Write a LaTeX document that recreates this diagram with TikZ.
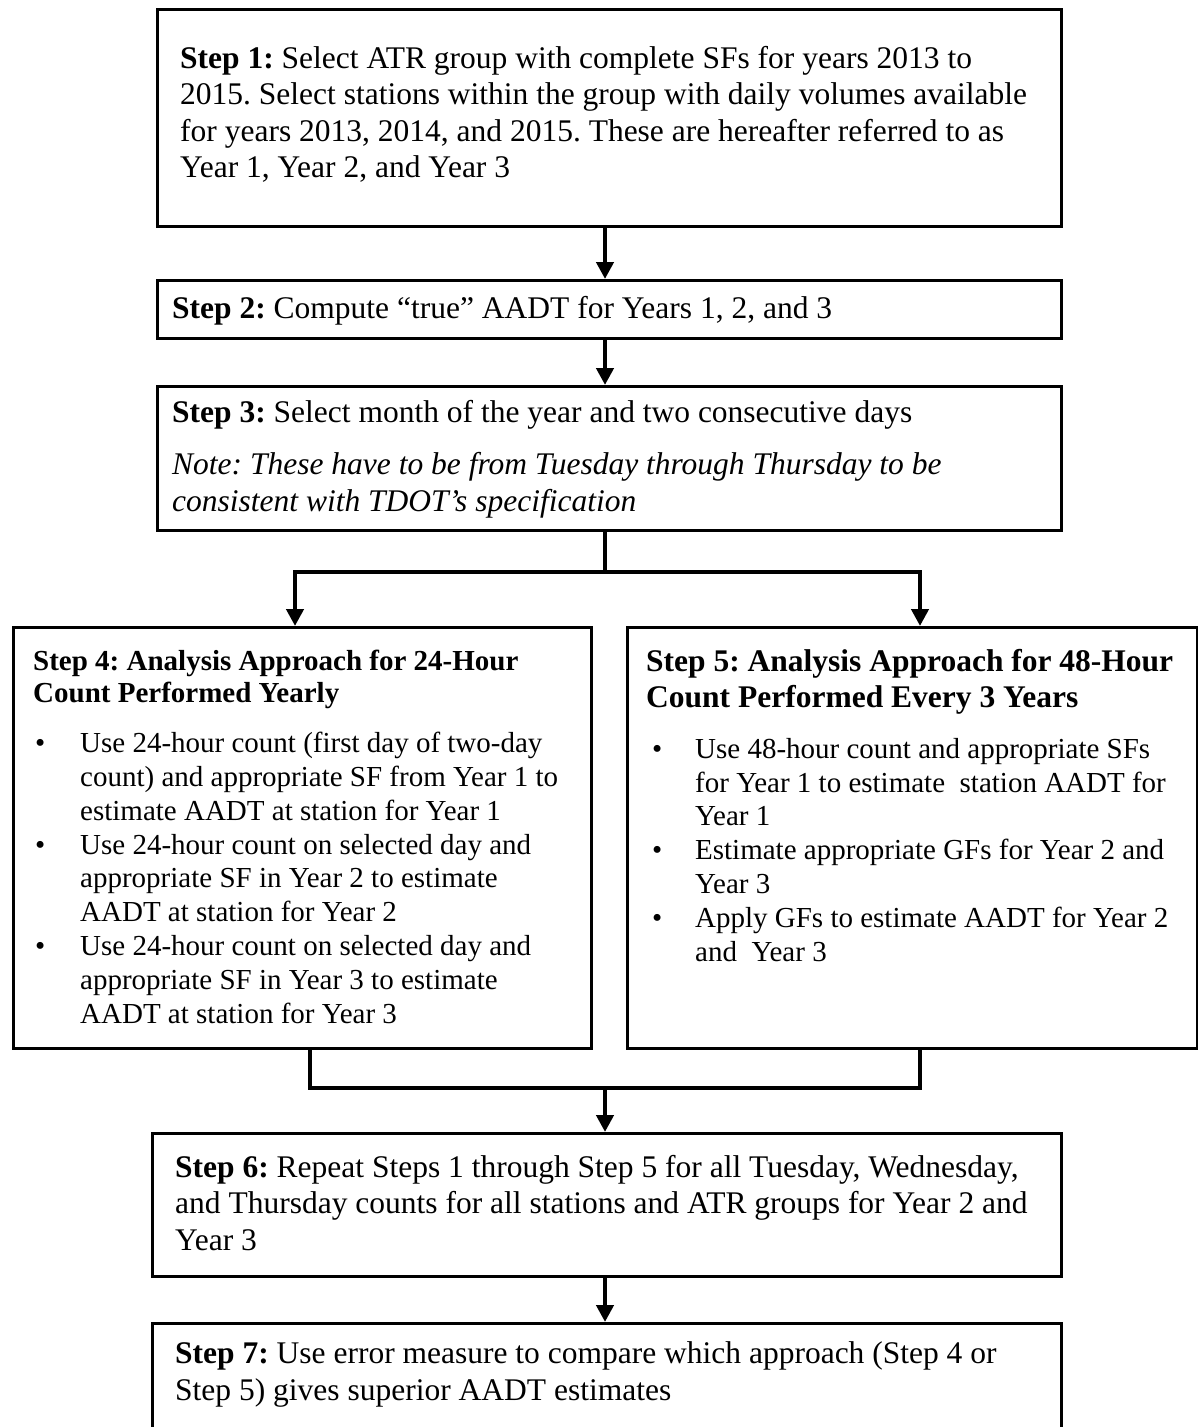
\documentclass[tikz,border=0pt]{standalone}
\usepackage{fontspec}
\setmainfont{Liberation Serif}
\usetikzlibrary{arrows.meta}
\frenchspacing
\newcommand\mybulA{\llap{\makebox[45pt][l]{\textbullet}}}
\newcommand\mybulB{\llap{\makebox[43pt][l]{\textbullet}}}
\begin{document}
\frenchspacing
\begin{tikzpicture}[x=1pt,y=-1pt,
  box/.style={draw, line width=2.5pt, anchor=north west, inner sep=0pt},
  bigtxt/.style={anchor=base west, align=left, inner sep=0pt, font=\fontsize{31.5}{36.5}\selectfont},
  smalltxt/.style={anchor=base west, align=left, inner sep=0pt, font=\fontsize{29}{33.8}\selectfont},
  smallhead/.style={anchor=base west, align=left, inner sep=0pt, font=\bfseries\fontsize{29}{32}\selectfont},
  bighead/.style={anchor=base west, align=left, inner sep=0pt, font=\bfseries\fontsize{31.5}{36}\selectfont},
  conn/.style={line width=4.5pt},
  arr/.style={line width=4.5pt, -{Triangle[length=17pt,width=17pt]}}]
\useasboundingbox (0,0) rectangle (1198,1427);
\clip (0,0) rectangle (1198,1427);
\fill[white] (0,0) rectangle (1198,1427);
% boxes
\node[box, minimum width=904pt, minimum height=217pt] (s1) at (156,8) {};
\node[box, minimum width=904pt, minimum height=58pt] (s2) at (156,279) {};
\node[box, minimum width=904pt, minimum height=144pt] (s3) at (156,385) {};
\node[box, minimum width=578pt, minimum height=421pt] (s4) at (12,626) {};
\node[box, minimum width=570pt, minimum height=421pt] (s5) at (626,626) {};
\node[box, minimum width=909pt, minimum height=143pt] (s6) at (151,1132) {};
\node[box, minimum width=909pt, minimum height=130pt] (s7) at (151,1322) {};
% texts (anchor = baseline of the last line)
\node[bigtxt] (s1t) at (180,177.5) {\textbf{Step 1:} Select ATR group with complete SFs for years 2013 to\\
2015. Select stations within the group with daily volumes available\\
for years 2013, 2014, and 2015. These are hereafter referred to as\\
Year 1, Year 2, and Year 3};
\node[bigtxt] (s2t) at (172,318) {\textbf{Step 2:} Compute “true” AADT for Years 1, 2, and 3};
\node[bigtxt] (s3t) at (172,511) {\textbf{Step 3:} Select month of the year and two consecutive days\\[15.5pt]
\textit{Note: These have to be from Tuesday through Thursday to be}\\
\textit{consistent with TDOT’s specification}};
\node[smallhead] (s4h) at (33,702) {Step 4: Analysis Approach for 24-Hour\\Count Performed Yearly};
\node[smalltxt] (s4b) at (80,1023) {\mybulA Use 24-hour count (first day of two-day\\
count) and appropriate SF from Year 1 to\\
estimate AADT at station for Year 1\\
\mybulA Use 24-hour count on selected day and\\
appropriate SF in Year 2 to estimate\\
AADT at station for Year 2\\
\mybulA Use 24-hour count on selected day and\\
appropriate SF in Year 3 to estimate\\
AADT at station for Year 3};
\node[bighead] (s5h) at (646,707) {Step 5: Analysis Approach for 48-Hour\\Count Performed Every 3 Years};
\node[smalltxt] (s5b) at (695,961) {\mybulB Use 48-hour count and appropriate SFs\\
for Year 1 to estimate\ \ station AADT for\\
Year 1\\
\mybulB Estimate appropriate GFs for Year 2 and\\
Year 3\\
\mybulB Apply GFs to estimate AADT for Year 2\\
and\ \ Year 3};
\node[bigtxt] (s6t) at (175,1250) {\textbf{Step 6:} Repeat Steps 1 through Step 5 for all Tuesday, Wednesday,\\
and Thursday counts for all stations and ATR groups for Year 2 and\\
Year 3};
\node[bigtxt] (s7t) at (175,1400) {\textbf{Step 7:} Use error measure to compare which approach (Step 4 or\\
Step 5) gives superior AADT estimates};
% connectors
\coordinate (j3) at (605,572);
\coordinate (jl) at (295,572);
\coordinate (jr) at (920,572);
\coordinate (k) at (605,1088);
\coordinate (kl) at (310,1088);
\coordinate (kr) at (920,1088);
\draw[arr] (j3 |- s1.south) -- (j3 |- s2.north);
\draw[arr] (j3 |- s2.south) -- (j3 |- s3.north);
\draw[conn] (j3 |- s3.south) -- (j3);
\draw[arr] (j3) -| (jl |- s4.north);
\draw[arr] (j3) -| (jr |- s5.north);
\draw[conn] (kl |- s4.south) -- (kl) -- (kr) -- (kr |- s5.south);
\draw[arr] (k) -- (k |- s6.north);
\draw[arr] (k |- s6.south) -- (k |- s7.north);
\end{tikzpicture}
\end{document}
